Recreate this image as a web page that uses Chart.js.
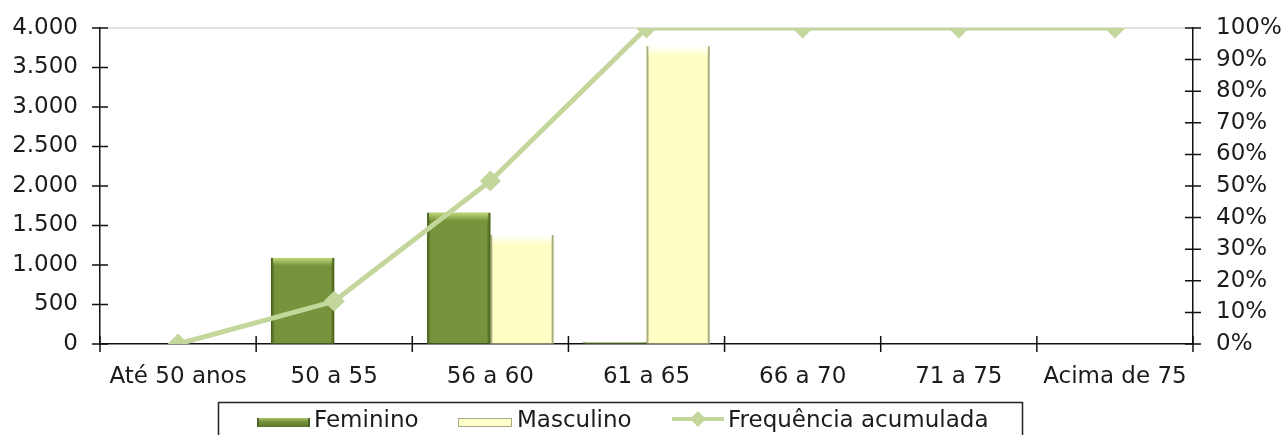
<!DOCTYPE html>
<html>
<head>
<meta charset="utf-8">
<script src="https://cdn.jsdelivr.net/npm/chart.js@4"></script>
<style>
  html, body { margin: 0; padding: 0; background: #fff; }
</style>
</head>
<body>
<canvas id="myChart" width="1286" height="435"></canvas>
<script>
// chart data
const categories = ['Até 50 anos', '50 a 55', '56 a 60', '61 a 65', '66 a 70', '71 a 75', 'Acima de 75'];
const feminino = [0, 1090, 1660, 20, 0, 0, 0];
const masculino = [0, 0, 1380, 3770, 0, 0, 0];
const frequenciaAcumulada = [0, 13.5, 51.6, 100, 100, 100, 100];
const leftTickLabels = ['0', '500', '1.000', '1.500', '2.000', '2.500', '3.000', '3.500', '4.000'];
const rightTickLabels = ['0%', '10%', '20%', '30%', '40%', '50%', '60%', '70%', '80%', '90%', '100%'];

const FONT = { family: 'DejaVu Sans', size: 23 };
const TEXT = '#1c1c1c';
const LINE_GREEN = '#c3d69b';

// invisible tick marks, only used to push the labels away from the axis
const hiddenGrid = (len) => ({
    display: true,
    drawOnChartArea: false,
    drawTicks: true,
    tickLength: len,
    tickColor: 'rgba(0,0,0,0)'
});

// bevel look of the bars, top line, crossing tick marks and boxed legend
const decor = {
    id: 'decor',
    beforeDatasetsDraw(chart) {
        const ctx = chart.ctx;
        const a = chart.chartArea;
        ctx.save();
        ctx.strokeStyle = '#e2e2e2';
        ctx.lineWidth = 2;
        ctx.beginPath();
        ctx.moveTo(a.left + 8, a.top);
        ctx.lineTo(a.right - 8, a.top);
        ctx.stroke();
        ctx.restore();
    },
    afterDatasetDraw(chart, args) {
        const ds = chart.data.datasets[args.index];
        if (ds.type !== 'bar') return;
        const ctx = chart.ctx;
        ctx.save();
        args.meta.data.forEach((bar) => {
            const h = bar.base - bar.y;
            if (h < 1) return;
            const l = bar.x - bar.width / 2;
            const w = bar.width;
            if (ds.label === 'Feminino') {
                let g = ctx.createLinearGradient(l, 0, l + w, 0);
                g.addColorStop(0, 'rgba(60,85,20,0.9)');
                g.addColorStop(0.06, 'rgba(60,85,20,0)');
                g.addColorStop(0.94, 'rgba(60,85,20,0)');
                g.addColorStop(1, 'rgba(60,85,20,0.9)');
                ctx.fillStyle = g;
                ctx.fillRect(l, bar.y, w, h);
                if (h > 8) {
                    g = ctx.createLinearGradient(0, bar.y, 0, bar.y + 8);
                    g.addColorStop(0, 'rgba(190,215,120,1)');
                    g.addColorStop(1, 'rgba(190,215,120,0)');
                    ctx.fillStyle = g;
                    ctx.fillRect(l + 2, bar.y, w - 4, 8);
                }
            } else {
                ctx.fillStyle = 'rgba(150,150,110,0.8)';
                ctx.fillRect(l, bar.y, 2, h);
                ctx.fillRect(l + w - 2, bar.y, 2, h);
                const g = ctx.createLinearGradient(0, bar.y, 0, bar.y + 10);
                g.addColorStop(0, 'rgba(255,255,255,1)');
                g.addColorStop(1, 'rgba(255,255,255,0)');
                ctx.fillStyle = g;
                ctx.fillRect(l + 2, bar.y, w - 4, 10);
            }
        });
        ctx.restore();
    },
    afterDraw(chart) {
        const ctx = chart.ctx;
        const a = chart.chartArea;
        const y = chart.scales.y;
        const y1 = chart.scales.y1;
        ctx.save();
        ctx.strokeStyle = '#111';
        ctx.lineWidth = 1.5;
        ctx.beginPath();
        y.ticks.forEach((t) => {
            const py = y.getPixelForValue(t.value);
            ctx.moveTo(a.left - 8, py);
            ctx.lineTo(a.left + 8, py);
        });
        y1.ticks.forEach((t) => {
            const py = y1.getPixelForValue(t.value);
            ctx.moveTo(a.right - 8, py);
            ctx.lineTo(a.right + 8, py);
        });
        const step = (a.right - a.left) / categories.length;
        for (let i = 0; i <= categories.length; i++) {
            const px = a.left + i * step;
            ctx.moveTo(px, a.bottom - 8);
            ctx.lineTo(px, a.bottom + 8);
        }
        ctx.stroke();

        // legend
        ctx.strokeStyle = '#222';
        ctx.lineWidth = 1.5;
        ctx.strokeRect(218.5, 402.5, 804, 40);
        ctx.font = FONT.size + 'px ' + FONT.family;
        ctx.fillStyle = TEXT;
        ctx.textBaseline = 'alphabetic';
        ctx.textAlign = 'left';

        let g = ctx.createLinearGradient(0, 418, 0, 427);
        g.addColorStop(0, '#a9c46a');
        g.addColorStop(0.4, '#77933c');
        g.addColorStop(1, '#5a7526');
        ctx.fillStyle = g;
        ctx.fillRect(257, 418, 53, 9);
        ctx.fillStyle = '#4f6228';
        ctx.fillRect(257, 418, 2, 9);
        ctx.fillRect(308, 418, 2, 9);
        ctx.fillStyle = TEXT;
        ctx.fillText('Feminino', 314, 427);

        ctx.fillStyle = '#ffffcc';
        ctx.fillRect(458, 418, 54, 9);
        ctx.strokeStyle = '#a8a888';
        ctx.lineWidth = 1;
        ctx.strokeRect(458.5, 418.5, 53, 8);
        ctx.fillStyle = TEXT;
        ctx.fillText('Masculino', 517, 427);

        ctx.strokeStyle = LINE_GREEN;
        ctx.lineWidth = 4;
        ctx.beginPath();
        ctx.moveTo(672, 419);
        ctx.lineTo(724, 419);
        ctx.stroke();
        ctx.fillStyle = LINE_GREEN;
        ctx.beginPath();
        ctx.moveTo(698, 411);
        ctx.lineTo(706, 419);
        ctx.lineTo(698, 427);
        ctx.lineTo(690, 419);
        ctx.closePath();
        ctx.fill();
        ctx.fillStyle = TEXT;
        ctx.fillText('Frequência acumulada', 728, 427);
        ctx.restore();
    }
};

const ctx = document.getElementById('myChart').getContext('2d');
const chart = new Chart(ctx, {
    data: {
        labels: categories,
        datasets: [
            {
                type: 'line',
                label: 'Frequência acumulada',
                data: frequenciaAcumulada,
                yAxisID: 'y1',
                borderColor: LINE_GREEN,
                borderWidth: 5,
                pointStyle: 'rectRot',
                pointRadius: 10.5,
                pointBackgroundColor: LINE_GREEN,
                pointBorderColor: LINE_GREEN,
                pointBorderWidth: 0,
                tension: 0,
                order: 0
            },
            {
                type: 'bar',
                label: 'Feminino',
                data: feminino,
                yAxisID: 'y',
                backgroundColor: '#77933c',
                borderWidth: 0,
                categoryPercentage: 0.81,
                barPercentage: 1,
                order: 1
            },
            {
                type: 'bar',
                label: 'Masculino',
                data: masculino,
                yAxisID: 'y',
                backgroundColor: '#ffffc4',
                borderWidth: 0,
                categoryPercentage: 0.81,
                barPercentage: 1,
                order: 2
            }
        ]
    },
    options: {
        responsive: false,
        animation: false,
        layout: { padding: { top: 28, bottom: 34, left: 0, right: 0 } },
        plugins: {
            legend: { display: false },
            tooltip: { enabled: false }
        },
        scales: {
            x: {
                offset: true,
                grid: { display: false, drawTicks: false },
                border: { display: true, color: '#111', width: 1.5 },
                ticks: { color: TEXT, font: FONT, padding: 19, maxRotation: 0 },
                afterFit: (s) => { s.height = 57; }
            },
            y: {
                position: 'left',
                min: 0,
                max: 4000,
                grid: hiddenGrid(20),
                border: { display: true, color: '#111', width: 1.5 },
                ticks: {
                    stepSize: 500,
                    color: TEXT,
                    font: FONT,
                    padding: 2,
                    callback: (v, i) => leftTickLabels[i]
                },
                afterFit: (s) => { s.width = 100; }
            },
            y1: {
                position: 'right',
                min: 0,
                max: 100,
                grid: hiddenGrid(21),
                border: { display: true, color: '#111', width: 1.5 },
                ticks: {
                    stepSize: 10,
                    color: TEXT,
                    font: FONT,
                    padding: 2,
                    callback: (v, i) => rightTickLabels[i]
                },
                afterFit: (s) => { s.width = 93; }
            }
        }
    },
    plugins: [decor]
});
</script>
</body>
</html>
